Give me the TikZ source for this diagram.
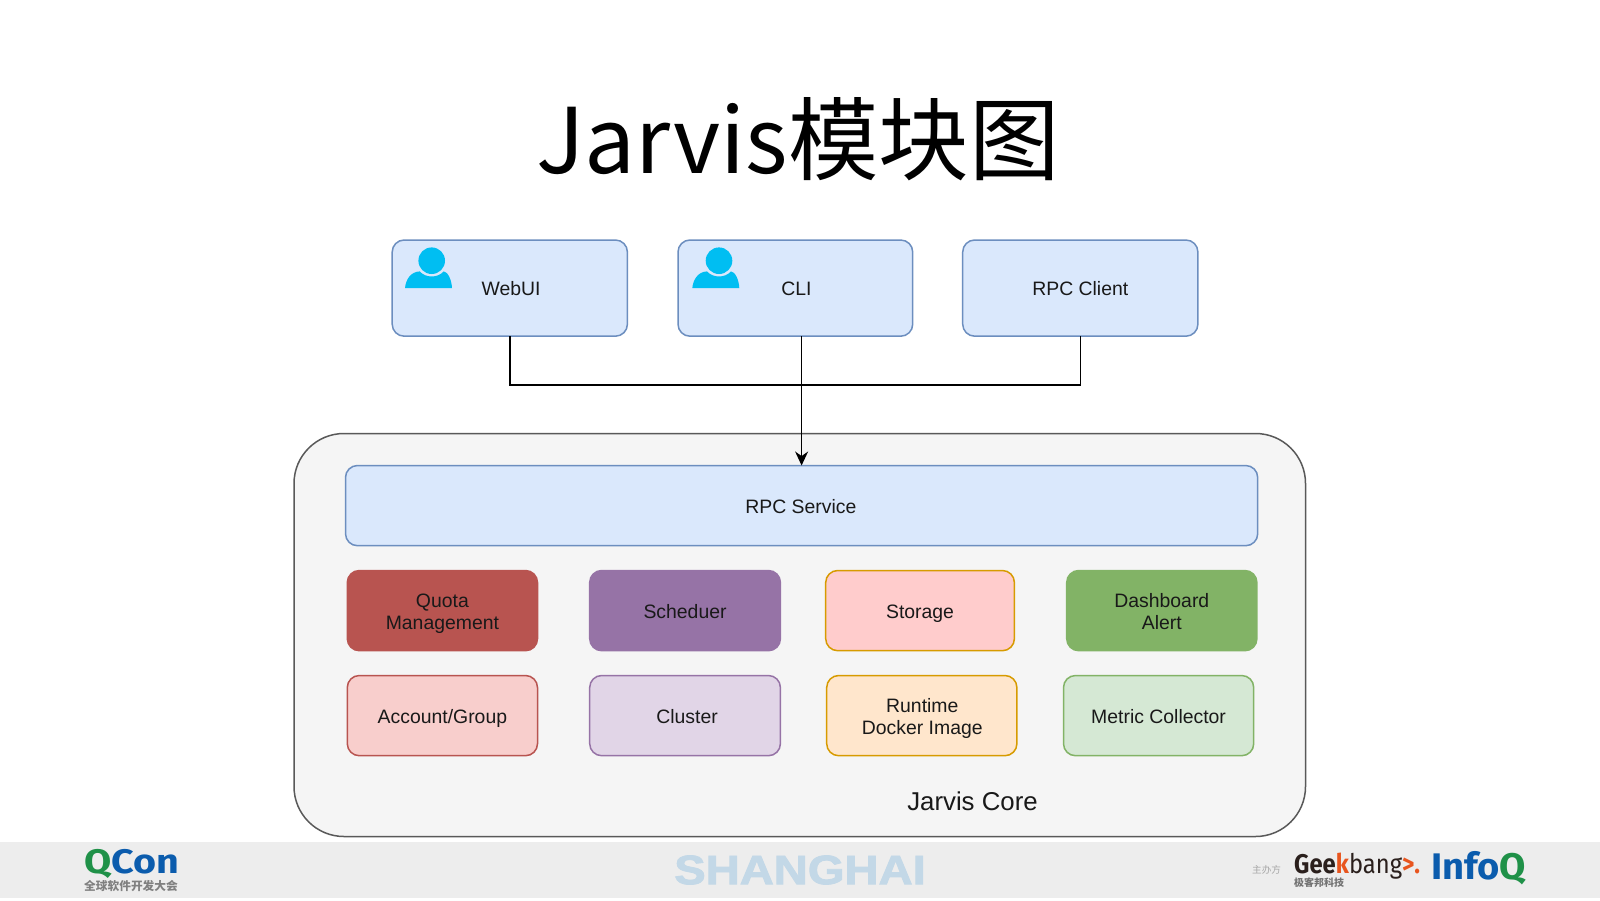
\documentclass[tikz,border=0pt]{standalone}
\usepackage{fontspec}
\setmainfont{Liberation Sans}
\newfontfamily\cjk{Noto Sans CJK SC}
\newfontfamily\boldface{Liberation Sans Bold}[FakeBold=2]
\newfontfamily\logofont{Fira Sans}
\usetikzlibrary{arrows.meta,calc}
\definecolor{bluefill}{HTML}{DAE8FC}
\definecolor{blueline}{HTML}{6C8EBF}
\definecolor{iconblue}{HTML}{00BEF2}
\definecolor{redfill}{HTML}{B85450}
\definecolor{purpfill}{HTML}{9673A6}
\definecolor{pinkfill}{HTML}{FFCCCC}
\definecolor{orgline}{HTML}{D79B00}
\definecolor{grnfill}{HTML}{82B366}
\definecolor{lredfill}{HTML}{F8CECC}
\definecolor{lpurfill}{HTML}{E1D5E7}
\definecolor{lorgfill}{HTML}{FFE6CC}
\definecolor{lgrnfill}{HTML}{D5E8D4}
\definecolor{shcol}{HTML}{C3D8E7}
\definecolor{qgreen}{HTML}{1F9148}
\definecolor{qblue}{HTML}{0B5CAD}
\definecolor{geekdark}{HTML}{2A1F1C}
\definecolor{geekorg}{HTML}{E8551E}
\tikzset{
  x=1pt,y=-1pt,
  boxbase/.style={rectangle,rounded corners=12pt,line width=1.5pt,anchor=north west,align=center,font=\fontsize{19.4}{22.6}\selectfont,text=black!90,inner sep=0pt,outer sep=0pt},
  plaintxt/.style={font=\fontsize{19.4}{22.6}\selectfont,text=black!90,inner sep=0pt},
  logotxt/.style={inner sep=0pt,anchor=west},
  wire/.style={draw=black,line width=1.4pt},
  usericon/.pic={
    \fill[iconblue] (0,0) circle[radius=13.3];
    \fill[iconblue] (-26.7,27.5) .. controls (-26,19) and (-21,11) .. (-12,10.7)
      .. controls (-6,17.5) and (6,17.5) .. (12,10.7)
      .. controls (16,11) and (20,19) .. (20.3,27.5) -- cycle;
  }
}
\newcommand{\topstrut}{\rule{0pt}{21.4pt}}
\newcommand{\botstrut}{\rule[-6pt]{0pt}{6pt}}
\newcommand{\boxat}[8]{\node[boxbase,fill=#6,draw=#7,minimum width=#4pt-0.8pt,minimum height=#5pt-0.8pt] (#1) at (#2,#3) {\topstrut #8\botstrut};}
\begin{document}
\begin{tikzpicture}
\useasboundingbox (0,0) rectangle (1600,900);
\fill[white] (0,0) rectangle (1600,900);
\fill[black!7] (0,842) rectangle (1600,898);
\node[font=\cjk\fontsize{90.5}{100}\selectfont,text=black,inner sep=0pt] (title) at (798,139.5) {Jarvis模块图};

% top boxes
\boxat{webui}{392.2}{240}{236}{97}{bluefill}{blueline}{}
\boxat{cli}{678}{240}{235.5}{97}{bluefill}{blueline}{}
\boxat{rpcc}{962.7}{240}{236}{97}{bluefill}{blueline}{RPC Client}
\node[plaintxt] (webuitxt) at (511,289) {WebUI};
\node[plaintxt] (clitxt) at (796.5,289) {CLI};
\pic at (431.7,260.7) {usericon};
\pic at (719,260.7) {usericon};

% core
\node[rectangle,rounded corners=50pt,anchor=north west,fill=black!4,draw=black!65,line width=1.5pt,minimum width=1011.5pt,minimum height=403pt,inner sep=0pt,outer sep=0pt] (core) at (294,433.5) {};
\node[font=\fontsize{25.8}{29}\selectfont,text=black!90,inner sep=0pt] (coretxt) at (972.5,801) {Jarvis Core};
\boxat{svc}{345.5}{465.5}{913}{81}{bluefill}{blueline}{\hspace*{-1.5pt}RPC Service}

% row 1
\boxat{quota}{347.3}{570.5}{191}{81}{redfill}{redfill}{Quota\\Management}
\boxat{sched}{589.7}{570.5}{191.5}{81}{purpfill}{purpfill}{Scheduer}
\boxat{store}{825.7}{570.5}{189.5}{81}{pinkfill}{orgline}{Storage}
\boxat{dash}{1066.7}{570.5}{191}{81}{grnfill}{grnfill}{Dashboard\\Alert}
% row 2
\boxat{acct}{347.3}{675.5}{191}{81}{lredfill}{redfill}{Account/Group}
\boxat{clus}{589.7}{675.5}{191.5}{81}{lpurfill}{purpfill}{\hspace*{4pt}Cluster}
\boxat{run}{826.7}{675.5}{191}{81}{lorgfill}{orgline}{\hspace*{1pt}Runtime\\\hspace*{1pt}Docker Image}
\boxat{metric}{1063.5}{675.5}{191}{81}{lgrnfill}{grnfill}{Metric Collector}

% connectors
\coordinate (bus) at (0,385);
\draw[wire] (webui.south) |- (rpcc.south |- bus) -- (rpcc.south);
\draw[wire,-{Stealth[length=14pt,width=13pt]}] (svc.north |- cli.south) -- (svc.north);

% footer
\node[font=\boldface\fontsize{41}{41}\selectfont,text=shcol,inner sep=0pt,xscale=1.15] (sh) at (800,870) {SHANGHAI};
\node[logotxt,font=\logofont\bfseries\fontsize{34}{34}\selectfont,xscale=1.16] (qcon) at (84,864) {\textcolor{qgreen}{Q}\textcolor{qblue}{Con}};
\node[logotxt,font=\cjk\bfseries\fontsize{11.7}{12}\selectfont,text=black!50] (qsub) at (84,886) {全球软件开发大会};
\node[logotxt,font=\cjk\fontsize{9.6}{10}\selectfont,text=black!35] (host) at (1252,870) {主办方};
\node[logotxt,font=\logofont\fontsize{27}{27}\selectfont,text=geekdark,xscale=.88] (geek) at (1294,866) {\textbf{Gee}\textcolor{geekorg}{\textbf{k}}bang\textcolor{geekorg}{\textbf{>.}}};
\node[logotxt,font=\cjk\bfseries\fontsize{10}{10}\selectfont,text=black!55] (geeksub) at (1294,882.5) {极客邦科技};
\node[logotxt,font=\logofont\bfseries\fontsize{37}{37}\selectfont,xscale=1.03] (infoq) at (1431,868) {\textcolor{qblue}{Info}\textcolor{qgreen}{Q}};
\end{tikzpicture}
\end{document}
